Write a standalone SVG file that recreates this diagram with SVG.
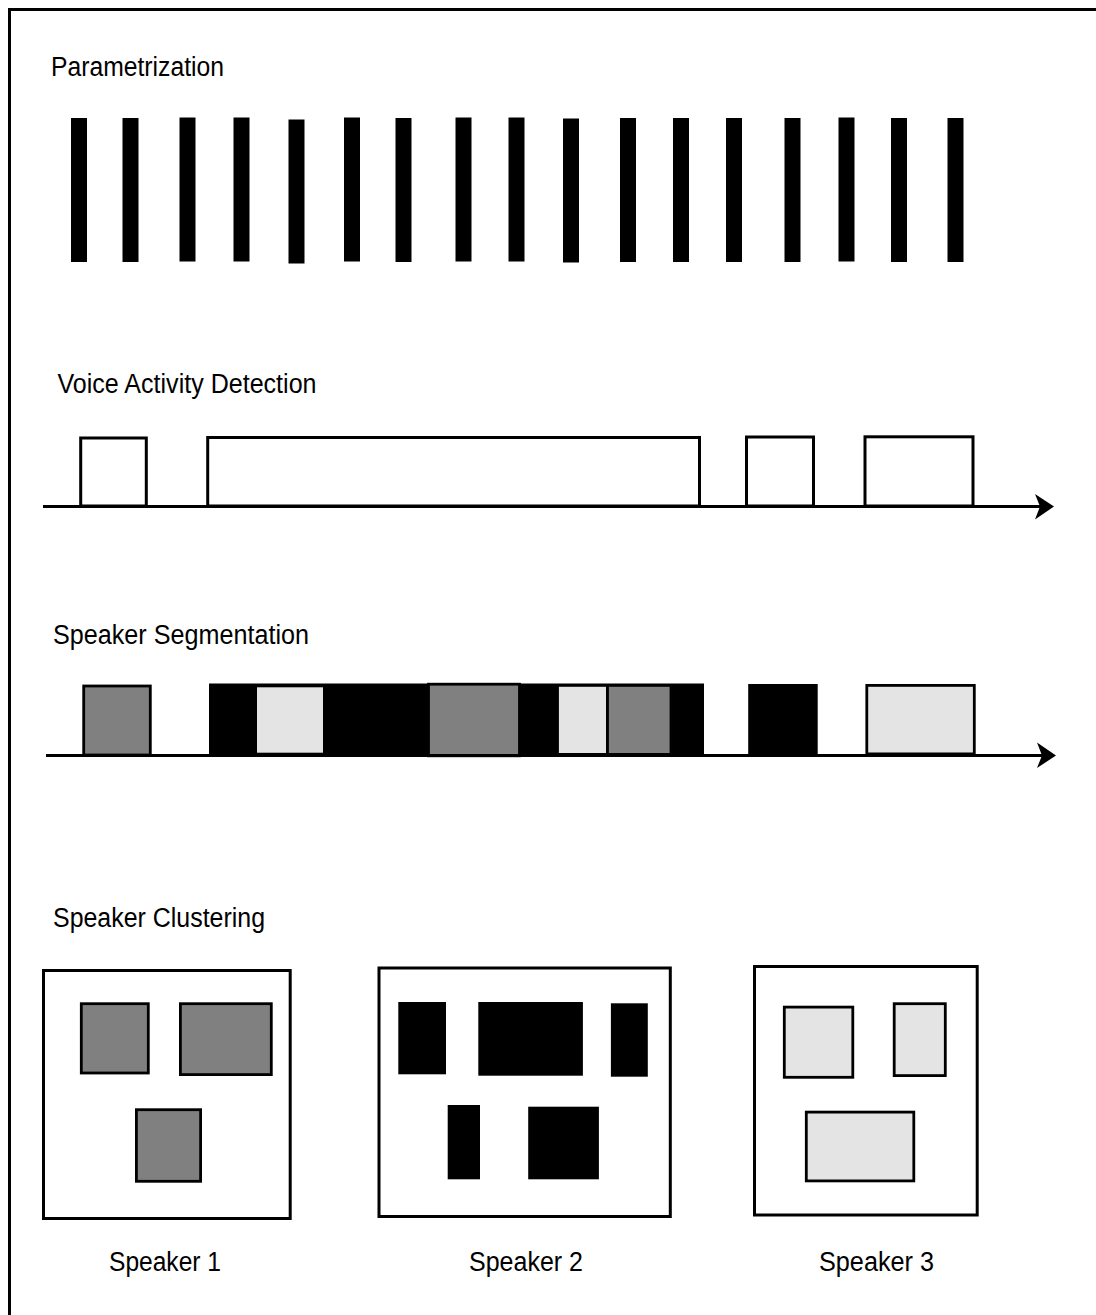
<svg xmlns="http://www.w3.org/2000/svg" width="1096" height="1315" viewBox="0 0 1096 1315">
<style>
.lbl{font-family:"Liberation Sans",Arial,sans-serif;font-size:27px;fill:#000}
.bar{fill:#000}
.vad{fill:#fff;stroke:#000;stroke-width:3}
.blk{fill:#000}
.gry{fill:#808080;stroke:#000;stroke-width:2.8}
.lgt{fill:#e4e4e4;stroke:#000;stroke-width:2.8}
.lgtn{fill:#e4e4e4}
.frame{fill:#fff;stroke:#000;stroke-width:3}
.axis{stroke:#000;stroke-width:3;fill:none}
.head{fill:#000}
</style>
<rect x="0" y="0" width="1096" height="1315" fill="#fff"/>
<rect x="9.5" y="9.5" width="1100" height="1320" fill="none" stroke="#000" stroke-width="3"/>

<g id="parametrization">
<text class="lbl" x="51" y="76" textLength="173" lengthAdjust="spacingAndGlyphs">Parametrization</text>
<rect class="bar" x="71" y="118" width="16" height="144"/>
<rect class="bar" x="122.5" y="118" width="16" height="144"/>
<rect class="bar" x="179.5" y="117.5" width="16" height="144"/>
<rect class="bar" x="233.5" y="117.5" width="16" height="144"/>
<rect class="bar" x="288.5" y="119.5" width="16" height="144"/>
<rect class="bar" x="344" y="117.5" width="16" height="144"/>
<rect class="bar" x="395.5" y="118" width="16" height="144"/>
<rect class="bar" x="455.5" y="117.5" width="16" height="144"/>
<rect class="bar" x="508.5" y="117.5" width="16" height="144"/>
<rect class="bar" x="563" y="118.5" width="16" height="144"/>
<rect class="bar" x="620" y="118" width="16" height="144"/>
<rect class="bar" x="673" y="118" width="16" height="144"/>
<rect class="bar" x="726" y="118" width="16" height="144"/>
<rect class="bar" x="784.5" y="118" width="16" height="144"/>
<rect class="bar" x="838.5" y="117.5" width="16" height="144"/>
<rect class="bar" x="891" y="118" width="16" height="144"/>
<rect class="bar" x="947.5" y="118" width="16" height="144"/>
</g>

<g id="vad">
<text class="lbl" x="57.5" y="393.3" textLength="259" lengthAdjust="spacingAndGlyphs">Voice Activity Detection</text>
<rect class="vad" x="80.7" y="438" width="65.6" height="68"/>
<rect class="vad" x="207.7" y="437.5" width="491.8" height="68.5"/>
<rect class="vad" x="746.5" y="437" width="67" height="69"/>
<rect class="vad" x="865" y="436.8" width="108" height="69.2"/>
</g>

<g id="segmentation">
<text class="lbl" x="53" y="643.5" textLength="256" lengthAdjust="spacingAndGlyphs">Speaker Segmentation</text>
<rect class="blk" x="209" y="683.5" width="495" height="73.5"/>
<rect class="gry" x="83.7" y="686" width="66.6" height="69"/>
<rect class="lgtn" x="257" y="687.3" width="66" height="65.4"/>
<rect class="gry" x="428.5" y="684.2" width="91" height="71.6"/>
<rect class="lgt" x="557.5" y="685.4" width="50" height="69"/>
<rect class="gry" x="607.5" y="685.4" width="63.5" height="69"/>
<rect class="blk" x="748.2" y="684" width="69.5" height="71"/>
<rect class="lgt" x="866.8" y="685.4" width="107.5" height="68.5"/>
</g>

<g id="connectors">
<line class="axis" x1="43" y1="506.5" x2="1042" y2="506.5"/>
<polygon class="head" points="1035,494 1054,506.5 1035,519.5 1040,506.5"/>
<line class="axis" x1="46" y1="755.5" x2="1044" y2="755.5"/>
<polygon class="head" points="1037,742.5 1056,755.5 1037,768 1042,755.5"/>
</g>

<g id="clustering">
<text class="lbl" x="53" y="927" textLength="212" lengthAdjust="spacingAndGlyphs">Speaker Clustering</text>
</g>

<g id="speaker1">
<rect class="frame" x="43.5" y="970.5" width="246.7" height="248"/>
<rect class="gry" x="81.3" y="1003.7" width="67" height="69.3"/>
<rect class="gry" x="180.4" y="1003.7" width="90.9" height="70.9"/>
<rect class="gry" x="136.4" y="1109.7" width="64.2" height="71.6"/>
<text class="lbl" x="109" y="1270.5" textLength="112" lengthAdjust="spacingAndGlyphs">Speaker 1</text>
</g>

<g id="speaker2">
<rect class="frame" x="379" y="968" width="291.3" height="248.5"/>
<rect class="blk" x="398.3" y="1002" width="47.7" height="72.3"/>
<rect class="blk" x="478.3" y="1002" width="104.6" height="73.7"/>
<rect class="blk" x="610.9" y="1003.3" width="36.9" height="73.4"/>
<rect class="blk" x="447.7" y="1105" width="32.3" height="74.3"/>
<rect class="blk" x="528.2" y="1106.7" width="70.7" height="72.6"/>
<text class="lbl" x="469" y="1271" textLength="114" lengthAdjust="spacingAndGlyphs">Speaker 2</text>
</g>

<g id="speaker3">
<rect class="frame" x="754.5" y="966.5" width="222.7" height="248.5"/>
<rect class="lgt" x="784.3" y="1007.1" width="68.5" height="70.2"/>
<rect class="lgt" x="894.2" y="1003.7" width="51.1" height="71.9"/>
<rect class="lgt" x="806.3" y="1112.1" width="107.5" height="68.8"/>
<text class="lbl" x="819" y="1270.5" textLength="115" lengthAdjust="spacingAndGlyphs">Speaker 3</text>
</g>
</svg>
